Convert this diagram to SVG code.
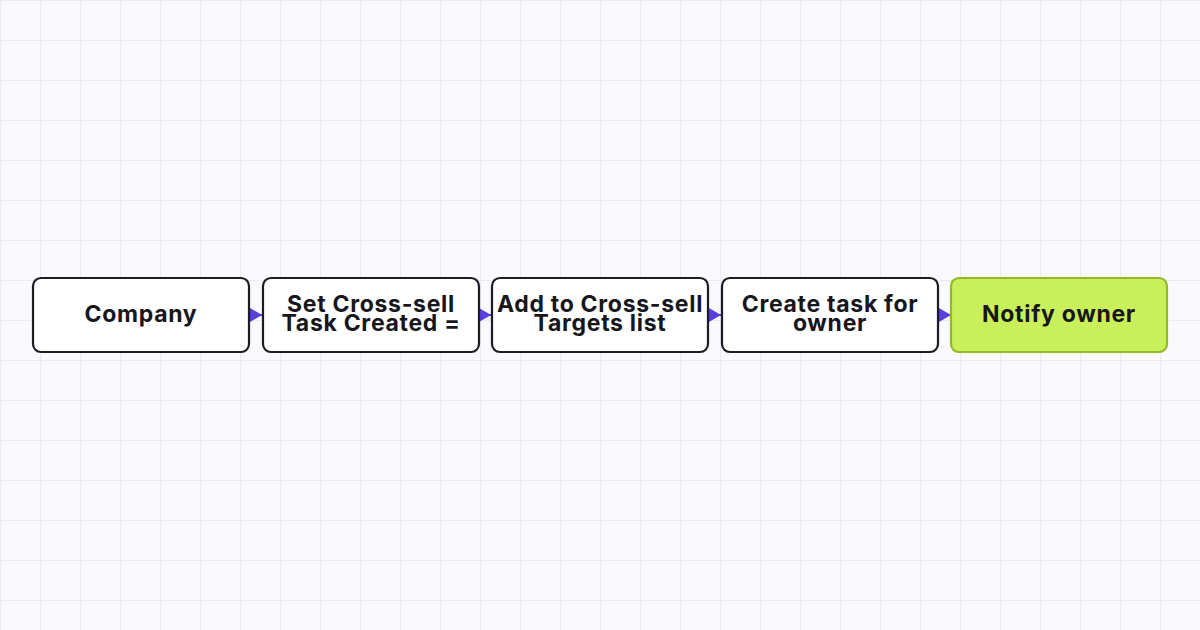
<svg xmlns="http://www.w3.org/2000/svg" width="1200" height="630" viewBox="0 0 1200 630">
<defs>
<pattern id="grid" width="40" height="40" patternUnits="userSpaceOnUse">
<rect width="40" height="40" fill="#fafafd"/>
<path d="M0.5 0V40M0 0.5H40" stroke="#ebebf6" stroke-width="1.2" fill="none"/>
</pattern>
<marker id="arr" viewBox="0 0 12 14" refX="12" refY="7" markerWidth="12" markerHeight="14" markerUnits="userSpaceOnUse" orient="auto">
<path d="M0 0L12 7L0 14Z" fill="#5b3fdc"/>
</marker>
</defs>
<style>
.box{fill:#ffffff;stroke:#1c1c22;stroke-width:2.2}
.hl{fill:#c9f05a;stroke:#93b92b;stroke-width:2.2}
.t{font-family:Inter,"Liberation Sans",sans-serif;font-weight:700;font-size:23px;letter-spacing:0.7px;fill:#16161c;text-anchor:middle}
.c{stroke:#5b3fdc;stroke-width:2;fill:none}
</style>
<rect width="1200" height="630" fill="url(#grid)"/>
<g id="connectors">
<line class="c" x1="249" y1="315" x2="262" y2="315" marker-end="url(#arr)"/>
<line class="c" x1="479" y1="315" x2="491" y2="315" marker-end="url(#arr)"/>
<line class="c" x1="708" y1="315" x2="721" y2="315" marker-end="url(#arr)"/>
<line class="c" x1="938" y1="315" x2="951" y2="315" marker-end="url(#arr)"/>
</g>
<g id="n1">
<rect class="box" x="33" y="278" width="216" height="74" rx="8"/>
<text class="t" x="141" y="321.5">Company</text>
</g>
<g id="n2">
<rect class="box" x="263" y="278" width="216" height="74" rx="8"/>
<text class="t" x="371" y="311.5">Set Cross-sell</text>
<text class="t" x="371" y="331">Task Created =</text>
</g>
<g id="n3">
<rect class="box" x="492" y="278" width="216" height="74" rx="8"/>
<text class="t" x="600" y="311.5">Add to Cross-sell</text>
<text class="t" x="600" y="331">Targets list</text>
</g>
<g id="n4">
<rect class="box" x="722" y="278" width="216" height="74" rx="8"/>
<text class="t" x="830" y="311.5">Create task for</text>
<text class="t" x="830" y="331">owner</text>
</g>
<g id="n5">
<rect class="hl" x="951" y="278" width="216" height="74" rx="8"/>
<text class="t" x="1059" y="321.5">Notify owner</text>
</g>
</svg>
